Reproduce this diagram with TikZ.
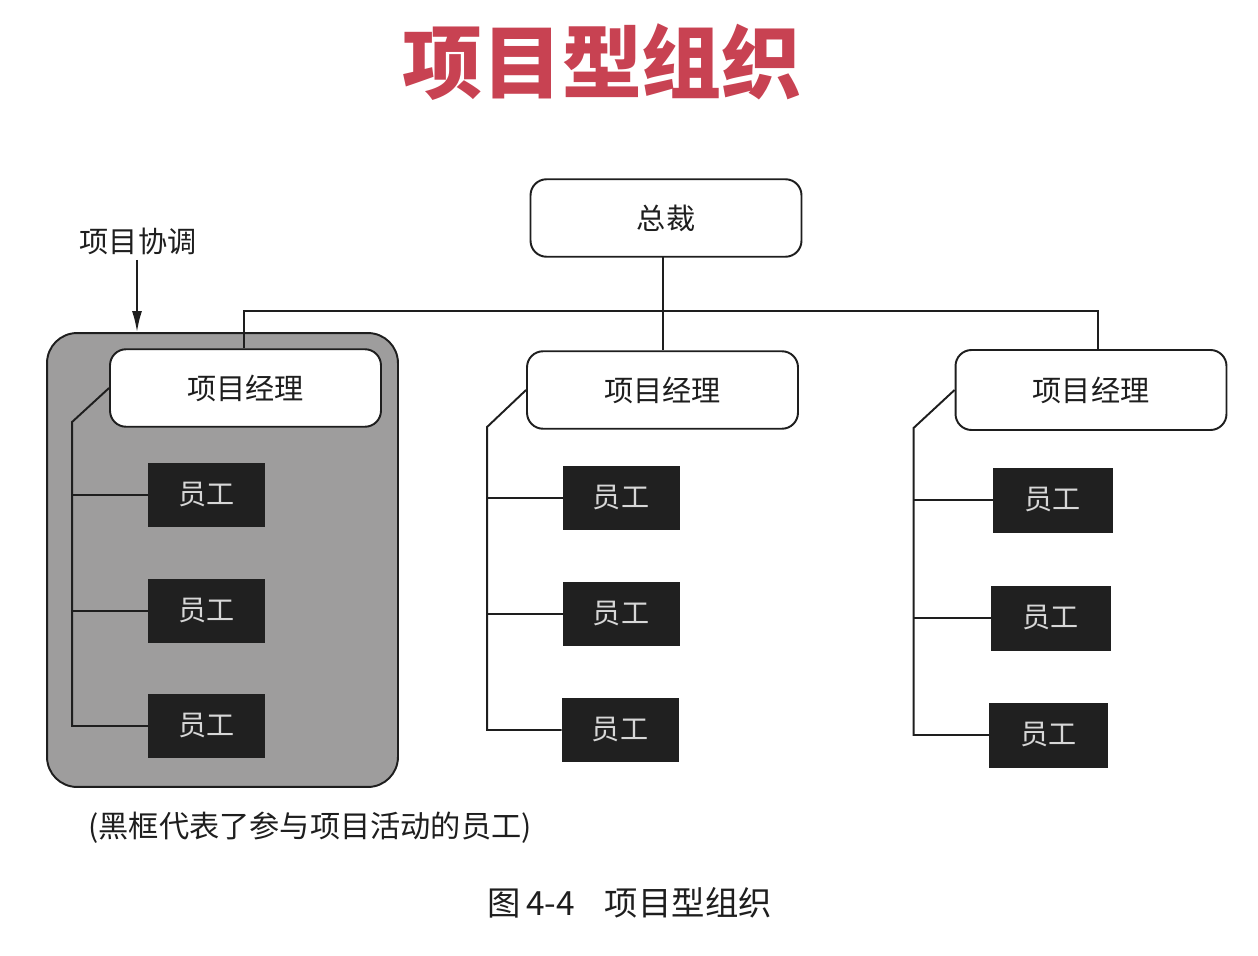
\documentclass[tikz,border=0pt]{standalone}
\usepackage{fontspec}
\setmainfont{Noto Sans CJK SC}
\newfontfamily\cjk{Noto Sans CJK SC}
\usetikzlibrary{arrows.meta}
\definecolor{ink}{RGB}{30,30,30}
\definecolor{titlered}{RGB}{200,66,82}
\definecolor{boxgray}{RGB}{158,157,157}
\definecolor{empfill}{RGB}{32,32,32}
\definecolor{emptext}{RGB}{215,215,215}
\tikzset{
  conn/.style={draw=ink, line width=1.1pt},
  roundbox/.style={draw=ink, line width=1.1pt, fill=white, rounded corners=0.32cm,
    minimum width=5.42cm, minimum height=1.55cm, inner sep=0pt, text=ink,
    font=\cjk\fontsize{16.6pt}{18pt}\selectfont},
  empbox/.style={draw=empfill, fill=empfill, minimum width=2.32cm, minimum height=1.25cm,
    inner sep=0pt, text=emptext, font=\cjk\fontsize{16pt}{18pt}\selectfont},
  grouparea/.style={draw=ink, line width=1.1pt, fill=boxgray, rounded corners=0.6cm,
    minimum width=7.02cm, minimum height=9.08cm, inner sep=0pt},
  plaintext/.style={text=ink, inner sep=0pt},
}
\begin{document}
\begin{tikzpicture}[x=0.02cm, y=-0.02cm]
\useasboundingbox (0,0) rectangle (1258,956);
% title
\node[text=titlered, inner sep=0pt, font=\cjk\bfseries\fontsize{45.5pt}{50pt}\selectfont] (title) at (602,62) {项目型组织};
% group area
\node[grouparea] (group) at (222.5,560) {};
% boxes
\node[roundbox] (pres) at (666,218) {总裁};
\node[roundbox] (pm1) at (245.5,388) {项目经理};
\node[roundbox] (pm2) at (662.5,390) {项目经理};
\node[roundbox, minimum height=1.6cm] (pm3) at (1091,390) {项目经理};
% employees
\node[empbox] (e11) at (206.5,495) {员工};
\node[empbox] (e12) at (206.5,611) {员工};
\node[empbox] (e13) at (206.5,726) {员工};
\node[empbox] (e21) at (621,498) {员工};
\node[empbox] (e22) at (621,614) {员工};
\node[empbox] (e23) at (620,730) {员工};
\node[empbox, minimum width=2.38cm, minimum height=1.28cm] (e31) at (1052.5,500) {员工};
\node[empbox, minimum width=2.38cm, minimum height=1.28cm] (e32) at (1050.5,618) {员工};
\node[empbox, minimum width=2.36cm, minimum height=1.28cm] (e33) at (1048.5,735) {员工};
% top connectors
\coordinate (bl) at (244,311);
\coordinate (br) at (1098,311);
\coordinate (pt) at (663,257);
\draw[conn] (pt) -- (pt |- pm2.north);
\draw[conn] (bl |- pm1.north) -- (bl) -- (br) -- (br |- pm3.north);
% column connectors
\draw[conn] (pm1.west) -- ++(-37,34) coordinate (v1) -- (v1 |- e13.west) -- (e13.west);
\draw[conn] (v1 |- e11.west) -- (e11.west);
\draw[conn] (v1 |- e12.west) -- (e12.west);
\draw[conn] (pm2.west) -- ++(-39,37) coordinate (v2) -- (v2 |- e23.west) -- (e23.west);
\draw[conn] (v2 |- e21.west) -- (e21.west);
\draw[conn] (v2 |- e22.west) -- (e22.west);
\draw[conn] (pm3.west) -- ++(-41,38) coordinate (v3) -- (v3 |- e33.west) -- (e33.west);
\draw[conn] (v3 |- e31.west) -- (e31.west);
\draw[conn] (v3 |- e32.west) -- (e32.west);
% coordination label and arrow
\node[plaintext, font=\cjk\fontsize{16.6pt}{18pt}\selectfont] (coord) at (138,241) {项目协调};
\coordinate (arrtop) at (137,260);
\draw[conn, -{Latex[length=0.42cm, width=0.2cm]}] (arrtop) -- (arrtop |- group.north);
% captions
\node[plaintext, anchor=west, font=\cjk\fontsize{17.2pt}{19pt}\selectfont] (note) at (88,828) {(黑框代表了参与项目活动的员工)};
\node[plaintext, anchor=west, font=\cjk\fontsize{19pt}{21pt}\selectfont] (fig) at (487,903) {图\,4-4\hspace{0.9em}项目型组织};
\end{tikzpicture}
\end{document}
